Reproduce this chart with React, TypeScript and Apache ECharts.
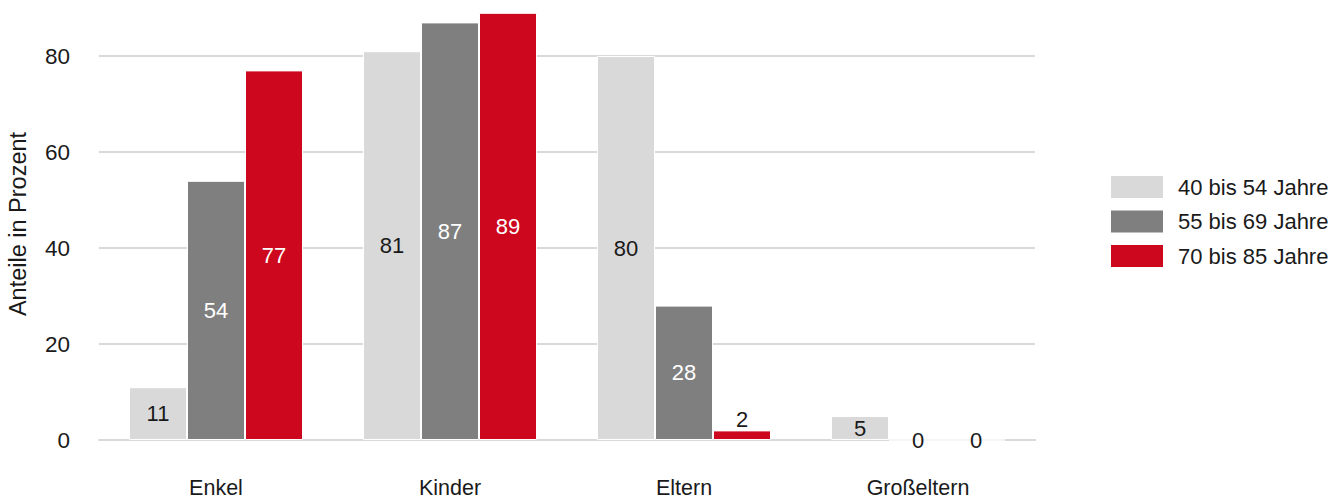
import React, { useEffect, useRef } from "react";
import * as echarts from "echarts";

const categories = ["Enkel", "Kinder", "Eltern", "Großeltern"];
const seriesNames = ["40 bis 54 Jahre", "55 bis 69 Jahre", "70 bis 85 Jahre"];
const values40 = [11, 81, 80, 5];
const values55 = [54, 87, 28, 0];
const values70 = [77, 89, 2, 0];
const yTicks = [0, 20, 40, 60, 80];

const colors = ["#d9d9d9", "#7f7f7f", "#cc071e"];
const labelColors = ["#1a1a1a", "#ffffff", "#ffffff"];
const FONT = "Liberation Sans";

export default function App() {
  const ref = useRef<HTMLDivElement>(null);
  useEffect(() => {
    if (!ref.current) return;
    const chart = echarts.init(ref.current, null, { renderer: "svg" });
    const all = [values40, values55, values70];
    const series = all.map((vals, i) => ({
      name: seriesNames[i],
      type: "bar",
      barWidth: 58,
      barGap: "0%",
      itemStyle: { color: colors[i], borderColor: "#ffffff", borderWidth: 1 },
      label: {
        show: true,
        position: "inside",
        color: labelColors[i],
        fontFamily: FONT,
        fontSize: 22,
      },
      data: vals.map((v) =>
        v > 0 && v < 4
          ? { value: v, label: { position: "top", color: "#1a1a1a", distance: 0 } }
          : v === 0
          ? { value: v, label: { color: "#1a1a1a" } }
          : v
      ),
    }));
    chart.setOption({
      animation: false,
      textStyle: { fontFamily: FONT },
      grid: { left: 99, right: 298, top: 8, bottom: 60, outerBoundsMode: "none", containLabel: false },
      legend: {
        orient: "vertical",
        left: 1104,
        top: 169,
        itemWidth: 54,
        itemHeight: 24,
        itemGap: 8.5,
        icon: "rect",
        textStyle: {
          fontFamily: FONT,
          fontSize: 22,
          lineHeight: 24,
          color: "#1a1a1a",
          padding: [0, 0, 0, 9],
        },
        data: seriesNames,
      },
      xAxis: {
        type: "category",
        data: categories,
        axisLine: { lineStyle: { color: "#d9d9d9", width: 2 } },
        axisTick: { show: false },
        axisLabel: { color: "#1a1a1a", fontSize: 21.5, lineHeight: 20, fontFamily: FONT, margin: 38 },
      },
      yAxis: {
        type: "value",
        min: yTicks[0],
        max: 90,
        interval: 20,
        name: "Anteile in Prozent",
        nameLocation: "middle",
        nameGap: 69,
        nameMoveOverlap: false,
        nameTextStyle: { color: "#1a1a1a", fontSize: 23.5, fontFamily: FONT },
        axisLine: { show: false },
        axisTick: { show: false },
        axisLabel: {
          color: "#1a1a1a",
          fontSize: 22.5,
          fontFamily: FONT,
          margin: 29,
          showMaxLabel: false,
          formatter: (v: number) => (yTicks.includes(v) ? String(v) : ""),
        },
        splitLine: { showMaxLine: false, lineStyle: { color: "#d9d9d9", width: 2 } },
      },
      series,
    });
    return () => chart.dispose();
  }, []);
  return (
    <div
      ref={ref}
      style={{ position: "fixed", left: 0, top: 0, width: 1333, height: 500, background: "#fff" }}
    />
  );
}
